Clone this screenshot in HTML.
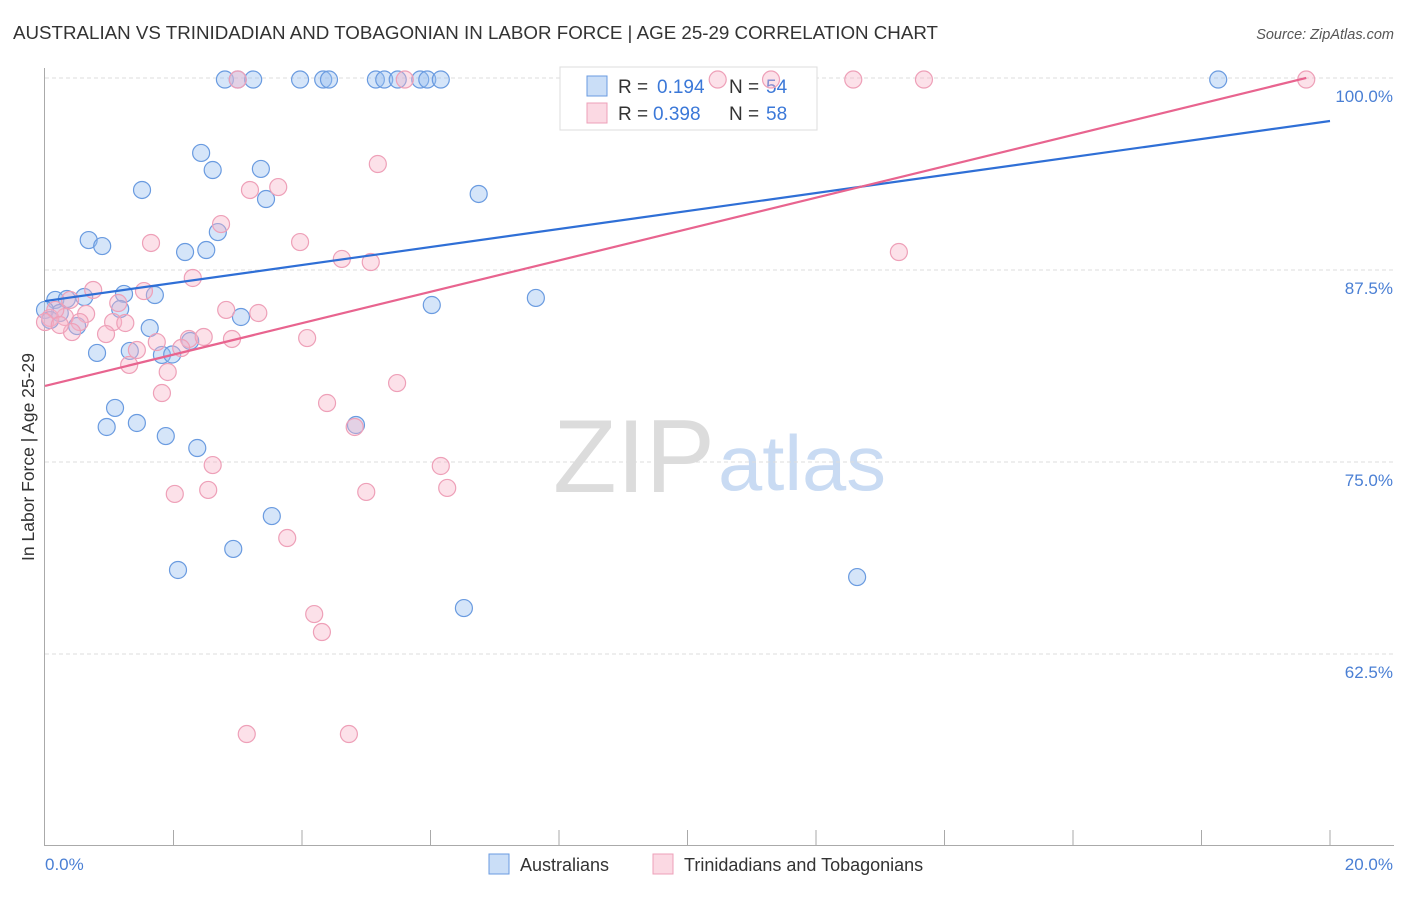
<!DOCTYPE html>
<html><head><meta charset="utf-8">
<style>
body{margin:0;background:#fff;}
svg text{font-family:"Liberation Sans",sans-serif;}
</style></head>
<body>
<svg id="chart" width="1406" height="892" viewBox="0 0 1406 892" xmlns="http://www.w3.org/2000/svg">
<text x="13" y="39" font-size="18.6" fill="#333" textLength="925" lengthAdjust="spacingAndGlyphs">AUSTRALIAN VS TRINIDADIAN AND TOBAGONIAN IN LABOR FORCE | AGE 25-29 CORRELATION CHART</text>
<text x="1394" y="39" font-size="14.5" fill="#555" font-style="italic" text-anchor="end">Source: ZipAtlas.com</text>
<g>
<text x="553" y="492" font-size="104" fill="#dcdcdc" font-family="Liberation Serif, serif" textLength="162" lengthAdjust="spacingAndGlyphs">ZIP</text>
<text x="718" y="490" font-size="78" fill="#c9dbf3" textLength="168" lengthAdjust="spacingAndGlyphs">atlas</text>
</g>
<g id="grid"></g>
<g id="axes"></g>
<g>
<rect x="560" y="67" width="257" height="63" fill="#fff" stroke="#ddd"/>
<rect x="587" y="76" width="20" height="20" fill="rgba(150,190,240,0.5)" stroke="#6a9be0"/>
<rect x="587" y="103" width="20" height="20" fill="rgba(248,180,200,0.5)" stroke="#eea0b8"/>
<text x="618" y="93" font-size="19" fill="#333">R =</text>
<text x="657" y="93" font-size="19" fill="#3b78d8">0.194</text>
<text x="729" y="93" font-size="19" fill="#333">N =</text>
<text x="766" y="93" font-size="19" fill="#3b78d8">54</text>
<text x="618" y="120" font-size="19" fill="#333">R =</text>
<text x="653" y="120" font-size="19" fill="#3b78d8">0.398</text>
<text x="729" y="120" font-size="19" fill="#333">N =</text>
<text x="766" y="120" font-size="19" fill="#3b78d8">58</text>
</g>
<g id="lines"></g>
<g id="pts"></g>
<text transform="translate(34,457) rotate(-90)" font-size="17.5" fill="#333" text-anchor="middle">In Labor Force | Age 25-29</text>
<g>
<rect x="489" y="854" width="20" height="20" fill="rgba(150,190,240,0.5)" stroke="#6a9be0"/>
<text x="520" y="871" font-size="18" fill="#333">Australians</text>
<rect x="653" y="854" width="20" height="20" fill="rgba(248,180,200,0.5)" stroke="#eea0b8"/>
<text x="684" y="871" font-size="18" fill="#333">Trinidadians and Tobagonians</text>
</g>
</svg>
<script>
const yTicks=[62.5,75,87.5,100];
const yTickLabels=["62.5%","75.0%","87.5%","100.0%"];
const blueX=[2.80,3.00,3.24,3.97,4.33,4.42,5.15,5.28,5.49,5.84,5.95,6.16,18.26,2.43,2.61,3.36,1.51,3.44,6.75,2.69,0.68,0.89,2.18,2.51,0.16,0.34,0.61,1.23,1.71,6.02,7.64,1.17,3.05,0.23,0.50,1.63,2.26,1.32,0.81,1.82,1.98,1.09,0.96,1.43,1.88,2.37,4.84,3.53,2.93,2.07,12.64,6.52,0.0,0.08];
const blueY=[99.9,99.9,99.9,99.9,99.9,99.9,99.9,99.9,99.9,99.9,99.9,99.9,99.9,95.12,94.01,94.08,92.71,92.12,92.45,89.97,89.45,89.06,88.67,88.80,85.55,85.61,85.74,85.94,85.87,85.22,85.68,84.96,84.44,84.70,83.85,83.72,82.88,82.23,82.10,81.97,82.0,78.52,77.28,77.54,76.69,75.91,77.41,71.48,69.34,67.97,67.51,65.49,84.90,84.24];
const pinkX=[3.00,5.60,10.47,11.30,12.58,13.68,19.63,5.18,3.19,3.63,2.74,1.65,3.97,4.62,5.07,13.29,2.30,0.75,1.54,2.82,3.32,1.14,0.64,0.31,0.54,1.06,1.25,0.95,0.42,1.74,2.24,2.47,2.91,4.08,1.43,2.12,1.31,1.91,1.82,5.48,4.39,4.82,2.61,6.16,2.02,2.54,5.00,6.26,3.77,4.19,4.31,3.14,4.73,0.08,0.16,0.0,0.23,0.39];
const pinkY=[99.9,99.9,99.9,99.9,99.9,99.9,99.9,94.40,92.71,92.90,90.49,89.26,89.32,88.22,88.02,88.67,86.98,86.20,86.13,84.90,84.70,85.35,84.64,84.44,84.11,84.11,84.05,83.33,83.46,82.81,83.01,83.14,83.01,83.07,82.29,82.42,81.32,80.86,79.49,80.14,78.84,77.28,74.80,74.74,72.92,73.18,73.05,73.31,70.05,65.10,63.93,57.29,57.29,84.38,84.90,84.11,83.92,85.55];
const blueLine=[85.48,97.2];
const pinkLine=[79.95,100.38];
const NS="http://www.w3.org/2000/svg";
const X=v=>45+v/20*1285;
const Y=v=>78+(100-v)/12.5*192;
function mk(tag,attrs,parent){const e=document.createElementNS(NS,tag);for(const k in attrs)e.setAttribute(k,attrs[k]);parent.appendChild(e);return e;}
const grid=document.getElementById('grid'),axes=document.getElementById('axes'),lines=document.getElementById('lines'),pts=document.getElementById('pts');
yTicks.forEach((t,i)=>{
 const l=mk('line',{x1:45,x2:1394,y1:Y(t),y2:Y(t),stroke:'#ddd','stroke-dasharray':'4,3'},grid);
 
 
 const tx=mk('text',{x:1393,y:Y(t)+24,'font-size':17,fill:'#4a7fd4','text-anchor':'end'},grid);
 tx.textContent=yTickLabels[i];
 
 
});
mk('line',{x1:44.5,x2:44.5,y1:68,y2:846,stroke:'#aaa'},axes);
mk('line',{x1:44,x2:1394,y1:845.5,y2:845.5,stroke:'#aaa'},axes);
for(let k=1;k<=10;k++){const x=X(k*2);mk('line',{x1:x,x2:x,y1:830,y2:845,stroke:'#aaa'},axes);}
const x0=mk('text',{x:45,y:870,'font-size':17,fill:'#4a7fd4'},axes);x0.textContent='0.0%';


const x1=mk('text',{x:1393,y:870,'font-size':17,fill:'#4a7fd4','text-anchor':'end'},axes);x1.textContent='20.0%';


function dots(xs,ys,fill,stroke,name){xs.forEach((v,i)=>{const c=mk('circle',{cx:X(v),cy:Y(ys[i]),r:8.5,fill:fill,stroke:stroke,'stroke-width':1.2},pts);
 
 });}
dots(blueX,blueY,'rgba(150,190,240,0.4)','#6a9be0','australian-point');
dots(pinkX,pinkY,'rgba(248,180,200,0.4)','#eea0b8','trinidadian-point');
const bl=mk('line',{x1:X(0),y1:Y(blueLine[0]),x2:X(20),y2:Y(blueLine[1]),stroke:'#2f6fd6','stroke-width':2.2},lines);


const pl=mk('line',{x1:X(0),y1:Y(pinkLine[0]),x2:X(19.63),y2:Y(pinkLine[0]+(pinkLine[1]-pinkLine[0])*19.63/20),stroke:'#e8648f','stroke-width':2.2},lines);


document.getElementById('chart').appendChild(lines);
</script>
</body></html>
